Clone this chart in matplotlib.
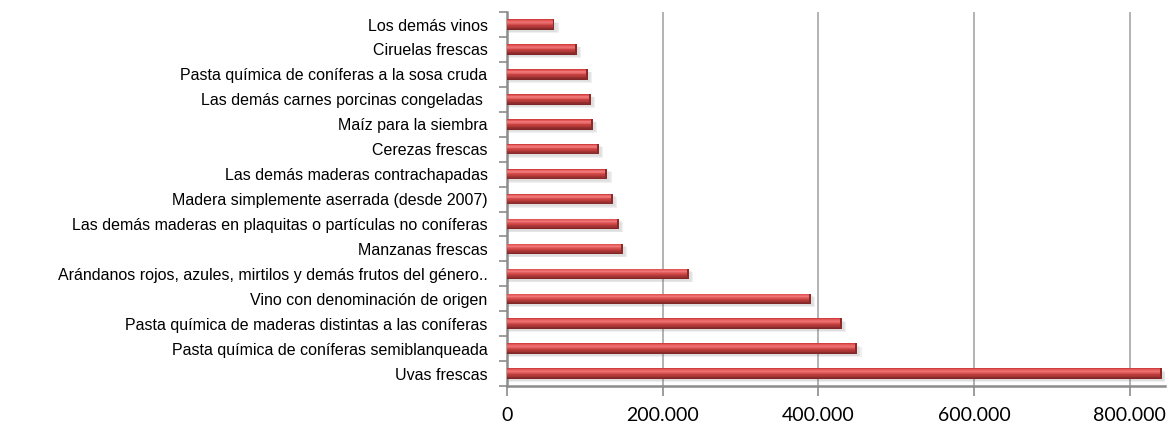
import matplotlib.pyplot as plt
import numpy as np
from matplotlib.colors import LinearSegmentedColormap
from matplotlib.ticker import FuncFormatter, FixedLocator

# productos (de abajo hacia arriba)
productos = [
    "Uvas frescas",
    "Pasta química de coníferas semiblanqueada",
    "Pasta química de maderas distintas a las coníferas",
    "Vino con denominación de origen",
    "Arándanos rojos, azules, mirtilos y demás frutos del género..",
    "Manzanas frescas",
    "Las demás maderas en plaquitas o partículas no coníferas",
    "Madera simplemente aserrada (desde 2007)",
    "Las demás maderas contrachapadas",
    "Cerezas frescas",
    "Maíz para la siembra",
    "Las demás carnes porcinas congeladas ",
    "Pasta química de coníferas a la sosa cruda",
    "Ciruelas frescas",
    "Los demás vinos",
]
valores = [841000, 450000, 430000, 390000, 234000, 149000, 144000, 136000,
           129000, 118000, 110000, 108000, 104000, 90000, 61000]
xticks = [0, 200000, 400000, 600000, 800000]

fig = plt.figure(figsize=(11.7, 4.32), dpi=100)
ax = fig.add_axes([0.4333, 0.1065, 0.5624, 0.8655])

y = np.arange(len(valores))
vals = np.array(valores)
h = 0.42

# sombra
for k, a in enumerate([0.05, 0.07, 0.09]):
    ax.barh(y - 0.07 - k * 0.03, vals + 2500 + k * 1500, height=h, color="#606060",
            alpha=a, linewidth=0, zorder=2)

# barras con degradado (franjas)
cmap = LinearSegmentedColormap.from_list("rojo", [
    (0.0, "#7a2424"), (0.25, "#a53434"), (0.5, "#cf4444"),
    (0.72, "#f27c7c"), (0.88, "#e65a5a"), (1.0, "#c83535")])
n = 14
for i in range(n):
    t = (i + 0.5) / n
    off = -h / 2 + (i + 0.5) * h / n
    ax.barh(y + off, vals, height=h / n * 1.02, color=cmap(t), linewidth=0, zorder=3)
# remate del extremo
ax.barh(y, np.full(len(vals), 2500), left=vals - 2500, height=h, color="#8a2a2a",
        linewidth=0, zorder=4)

ax.set_xlim(0, 845000)
ax.set_ylim(-0.5, len(valores) - 0.5)

ax.xaxis.set_major_locator(FixedLocator(xticks))
ax.xaxis.set_major_formatter(FuncFormatter(lambda v, p: f"{int(v):,}".replace(",", ".")))
ax.grid(axis="x", color="#a6a6a6", linewidth=1.2, zorder=0)
ax.set_axisbelow(True)

ax.set_yticks(y)
ax.set_yticklabels(productos, fontsize=11.5, fontfamily="Liberation Sans")
ax.yaxis.set_minor_locator(FixedLocator(np.arange(-0.5, len(valores), 1.0)))
ax.tick_params(axis="y", which="major", length=0, pad=14)
ax.tick_params(axis="y", which="minor", length=6, width=1.2, color="#8c8c8c")
ax.tick_params(axis="x", length=7, width=1.2, color="#8c8c8c", pad=8, labelsize=14)
for lab in ax.get_xticklabels():
    lab.set_fontfamily("Lato")

for s in ["top", "right"]:
    ax.spines[s].set_visible(False)
for s in ["left", "bottom"]:
    ax.spines[s].set_color("#8c8c8c")
    ax.spines[s].set_linewidth(1.8)

fig.savefig("out.png", dpi=100)
